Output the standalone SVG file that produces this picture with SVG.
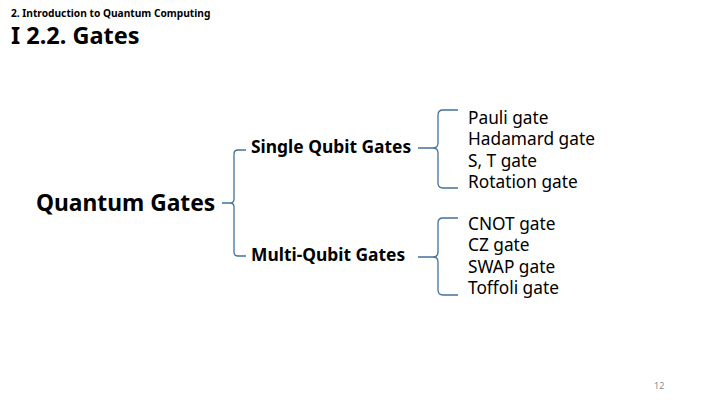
<svg xmlns="http://www.w3.org/2000/svg" width="720" height="405" viewBox="0 0 720 405">
<style>
text{font-family:"Noto Sans","Open Sans","Liberation Sans",sans-serif;fill:#000}
.b{font-weight:bold}
.item{font-size:17.3px}
.br{fill:none;stroke:#41719C;stroke-width:1.3}
</style>
<rect width="720" height="405" fill="#fff"/>
<text class="b" x="11" y="17" font-size="10.2">2. Introduction to Quantum Computing</text>
<text class="b" x="11" y="44" font-size="23.5">I 2.2. Gates</text>
<g id="root"><text class="b" x="36" y="211" font-size="22.8">Quantum Gates</text></g>
<g id="single"><text class="b" x="251" y="153" font-size="17.4">Single Qubit Gates</text></g>
<g id="multi"><text class="b" x="251" y="261" font-size="17.4">Multi-Qubit Gates</text></g>
<g id="single-items" class="item">
<text x="468" y="124">Pauli gate</text>
<text x="468" y="145">Hadamard gate</text>
<text x="468" y="167">S, T gate</text>
<text x="468" y="188">Rotation gate</text>
</g>
<g id="multi-items" class="item">
<text x="468" y="230">CNOT gate</text>
<text x="468" y="251">CZ gate</text>
<text x="468" y="273">SWAP gate</text>
<text x="468" y="294">Toffoli gate</text>
</g>
<g id="connectors">
<path class="br" d="M246,150 H238 Q234,150 234,154 V199 Q234,203 230,203 H222 M230,203 Q234,203 234,207 V252 Q234,256 238,256 H246"/>
<path class="br" d="M458,110 H443 Q438,110 438,115 V143 Q438,148 433,148 H418 M433,148 Q438,148 438,153 V183 Q438,188 443,188 H458"/>
<path class="br" d="M458,218 H443 Q438,218 438,223 V252 Q438,257 433,257 H418 M433,257 Q438,257 438,262 V290 Q438,295 443,295 H458"/>
</g>
<text x="654" y="389" font-size="9" style="fill:#8c8c8c">12</text>
</svg>
